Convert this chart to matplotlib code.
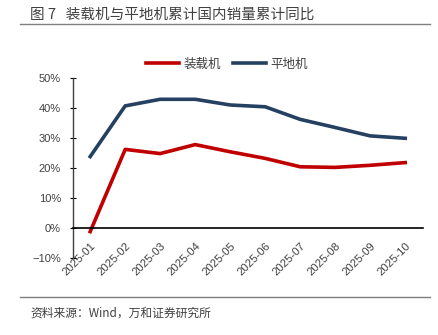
"""Loader vs grader cumulative domestic sales YoY chart."""

import matplotlib

matplotlib.use("Agg")
import matplotlib.pyplot as plt
from matplotlib.lines import Line2D

months = ["2025-01", "2025-02", "2025-03", "2025-04", "2025-05",
          "2025-06", "2025-07", "2025-08", "2025-09", "2025-10"]
loader_yoy = [-1.1, 26.3, 24.9, 27.9, 25.5, 23.3, 20.5, 20.3, 21.0, 21.9]
grader_yoy = [23.9, 40.8, 43.0, 43.0, 41.1, 40.5, 36.3, 33.6, 30.8, 30.0]
series_names = ["装载机", "平地机"]
ytick_values = [-10, 0, 10, 20, 30, 40, 50]
ytick_labels = ["\u221210%", "0%", "10%", "20%", "30%", "40%", "50%"]

title = "图 7   装载机与平地机累计国内销量累计同比"
source = "资料来源：Wind，万和证券研究所"

RED = "#C00000"
NAVY = "#254061"
TEXT = "#404040"

plt.rcParams["font.family"] = ["Liberation Sans", "Noto Sans CJK SC", "DejaVu Sans"]
CJK = ["Noto Sans CJK SC", "DejaVu Sans"]

fig = plt.figure(figsize=(4.39, 3.35), dpi=100)
ax = fig.add_axes([0.1656, 0.2290, 0.7973, 0.5373])

x = list(range(len(months)))
ax.plot(x, loader_yoy, color=RED, lw=2.6, solid_joinstyle="round")
ax.plot(x, grader_yoy, color=NAVY, lw=2.6, solid_joinstyle="round")

# move the x axis onto the zero line before styling the ticks
for side in ("top", "right"):
    ax.spines[side].set_visible(False)
ax.spines["left"].set_color("#404040")
ax.spines["left"].set_linewidth(1.0)
ax.spines["bottom"].set_position(("data", 0))
ax.spines["bottom"].set_color("black")
ax.spines["bottom"].set_linewidth(1.2)

ax.set_xlim(-0.5, len(months) - 0.5)
ax.set_ylim(-10, 50)
ax.set_yticks(ytick_values)
ax.set_yticklabels(ytick_labels)
ax.set_xticks(x)
ax.set_xticklabels(months)

ax.tick_params(axis="y", direction="inout", length=5, width=0.8,
               labelsize=8, labelcolor=TEXT, pad=6)
ax.tick_params(axis="x", length=0, labelsize=8.2, labelcolor=TEXT, pad=9)
plt.setp(ax.get_xticklabels(), rotation=45, ha="right", rotation_mode="anchor")

handles = [Line2D([], [], color=RED, lw=2.6), Line2D([], [], color=NAVY, lw=2.6)]
fig.legend(handles, series_names, loc="center", bbox_to_anchor=(227 / 439, 1 - 64 / 335),
           ncol=2, frameon=False, handlelength=2.6, handletextpad=0.35,
           columnspacing=1.0, prop={"family": CJK, "size": 9}, labelcolor=TEXT)

fig.text(30 / 439, 1 - 15 / 335, title, family=CJK, fontsize=10.5,
         color=TEXT, va="center", ha="left")
fig.add_artist(Line2D([20 / 439, 430 / 439], [1 - 24 / 335, 1 - 24 / 335],
                      color="#7f7f7f", lw=1.0))
fig.add_artist(Line2D([20 / 439, 430 / 439], [1 - 297 / 335, 1 - 297 / 335],
                      color="#7f7f7f", lw=1.0))
fig.text(30 / 439, 1 - 313 / 335, source, family=CJK, fontsize=8.5,
         color=TEXT, va="center", ha="left")

fig.savefig("out.png", dpi=100)
